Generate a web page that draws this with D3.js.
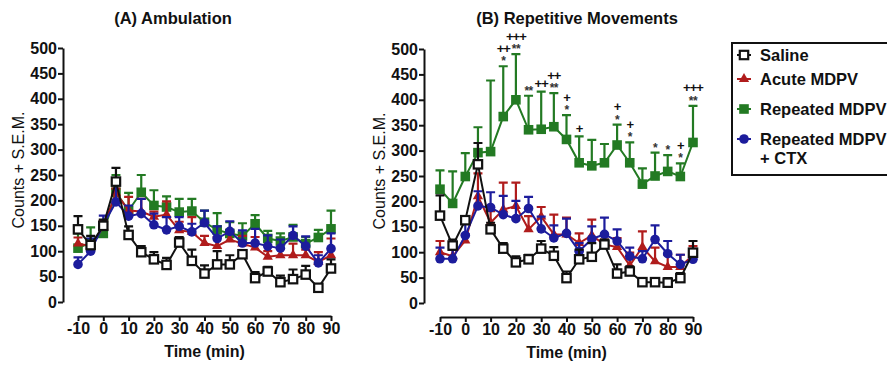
<!DOCTYPE html>
<html>
<head>
<meta charset="utf-8">
<script src="https://cdn.jsdelivr.net/npm/d3@7"></script>
<style>
  body { margin: 0; background: #fff; }
  svg { display: block; font-family: "Liberation Sans", Arial, sans-serif; }
</style>
</head>
<body>
<svg id="chart" width="887" height="367"></svg>
<script>
const times = [-10, -5, 0, 5, 10, 15, 20, 25, 30, 35, 40, 45, 50, 55, 60, 65, 70, 75, 80, 85, 90];
const xTicks = [-10, 0, 10, 20, 30, 40, 50, 60, 70, 80, 90];
const yTicks = [0, 50, 100, 150, 200, 250, 300, 350, 400, 450, 500];
const groups = ['Saline', 'Acute MDPV', 'Repeated MDPV', 'Repeated MDPV\n+ CTX'];

// (A) Ambulation: means and mean + S.E.M.
const ambSaline = [143, 112, 150, 237, 132, 98, 84, 73, 117, 81, 56, 74, 74, 94, 47, 60, 39, 45, 54, 28, 66];
const ambSalineTop = [169, 130, 162, 264, 149, 110, 98, 87, 128, 103, 72, 100, 92, 100, 59, 69, 52, 64, 71, 32, 84];
const ambAcute = [115, 110, 148, 215, 180, 178, 168, 172, 141, 138, 116, 110, 123, 115, 107, 89, 92, 92, 92, 79, 92];
const ambAcuteTop = [127, 120, 160, 223, 207, 203, 178, 198, 158, 167, 130, 128, 135, 130, 128, 100, 105, 115, 103, 98, 125];
const ambRepeated = [106, 117, 135, 216, 180, 216, 190, 187, 177, 179, 157, 142, 135, 130, 154, 125, 120, 128, 115, 127, 144];
const ambRepeatedTop = [135, 147, 150, 250, 215, 250, 220, 208, 203, 203, 180, 175, 157, 155, 171, 140, 135, 152, 128, 142, 180];
const ambCtx = [74, 100, 152, 197, 169, 174, 152, 142, 149, 138, 156, 125, 139, 116, 116, 110, 106, 131, 110, 77, 105];
const ambCtxTop = [88, 125, 170, 230, 190, 203, 174, 167, 167, 154, 180, 149, 159, 141, 144, 131, 123, 149, 129, 92, 135];

// (B) Repetitive Movements
const repSaline = [172, 113, 163, 273, 145, 107, 80, 86, 107, 93, 49, 86, 91, 115, 58, 62, 41, 41, 40, 49, 99];
const repSalineTop = [212, 125, 169, 315, 158, 118, 92, 95, 122, 110, 62, 105, 118, 125, 76, 72, 49, 49, 49, 59, 122];
const repAcute = [100, 92, 123, 210, 158, 184, 191, 145, 170, 135, 135, 118, 133, 115, 110, 74, 110, 82, 71, 71, 95];
const repAcuteTop = [122, 105, 135, 255, 181, 237, 237, 171, 189, 174, 168, 137, 164, 125, 128, 99, 141, 109, 95, 95, 112];
const repRepeated = [224, 196, 249, 296, 298, 367, 400, 341, 342, 347, 322, 276, 270, 276, 311, 276, 234, 250, 259, 249, 316];
const repRepeatedTop = [261, 259, 295, 346, 438, 466, 490, 408, 416, 413, 370, 328, 321, 313, 351, 316, 265, 296, 291, 275, 388];
const repCtx = [87, 87, 133, 191, 188, 174, 166, 186, 146, 128, 137, 102, 126, 135, 122, 92, 87, 125, 97, 76, 86];
const repCtxTop = [109, 105, 161, 220, 218, 211, 201, 209, 170, 153, 166, 118, 151, 168, 145, 109, 102, 153, 122, 95, 102];

// significance marks above Repeated MDPV in (B), lines listed top to bottom
const sigTimes = [15, 20, 25, 30, 35, 40, 45, 60, 65, 75, 80, 85, 90];
const sigMarks = [['++', '*'], ['+++', '**'], ['**'], ['++'], ['++', '**'], ['+', '*'], ['+'],
  ['+', '*'], ['+', '*'], ['*'], ['*'], ['+', '*'], ['+++', '**']];

const colors = ['#111111', '#b01c1c', '#237a23', '#1c1c9c'];
const shapes = ['openSquare', 'triangle', 'square', 'circle'];
const font = '"Liberation Sans", Arial, sans-serif';

const svg = d3.select('#chart');

function drawMarker(sel, shape, color) {
  if (shape === 'circle') {
    sel.append('circle').attr('r', 4.8).attr('fill', color);
  } else if (shape === 'triangle') {
    sel.append('path').attr('d', d3.symbol(d3.symbolTriangle, 46)()).attr('fill', color);
  } else if (shape === 'square') {
    sel.append('rect').attr('x', -4.8).attr('y', -4.8).attr('width', 9.6).attr('height', 9.6).attr('fill', color);
  } else {
    sel.append('rect').attr('x', -4.2).attr('y', -4.2).attr('width', 8.4).attr('height', 8.4)
      .attr('fill', '#fff').attr('stroke', color).attr('stroke-width', 2.2);
  }
}

function drawPanel(opts) {
  const { title, titleX, xRange, yRange, yAxisX, xAxisY, series, sig } = opts;
  const x = d3.scaleLinear().domain([-10, 90]).range(xRange);
  const y = d3.scaleLinear().domain([0, 500]).range(yRange);
  const g = svg.append('g');

  g.append('text')
    .attr('x', titleX).attr('y', 24)
    .attr('text-anchor', 'middle')
    .attr('font-size', '16.5px').attr('font-weight', 'bold')
    .attr('fill', '#111')
    .text(title);

  // Y axis
  g.append('g')
    .attr('transform', `translate(${yAxisX},0)`)
    .call(d3.axisLeft(y).tickValues(yTicks).tickSize(5).tickSizeOuter(0).tickPadding(1)
      .tickFormat(d => String(d)))
    .call(a => a.selectAll('path, line').attr('stroke', '#111').attr('stroke-width', 2))
    .call(a => a.selectAll('text').attr('font-size', '16px').attr('font-weight', 'bold')
      .attr('fill', '#111').attr('font-family', font));

  // X axis (detached from the y axis)
  g.append('g')
    .attr('transform', `translate(0,${xAxisY})`)
    .call(d3.axisBottom(x).tickValues(xTicks).tickSize(5).tickSizeOuter(0).tickPadding(2)
      .tickFormat(d => String(d)))
    .call(a => a.selectAll('path, line').attr('stroke', '#111').attr('stroke-width', 2))
    .call(a => a.selectAll('text').attr('font-size', '16px').attr('font-weight', 'bold')
      .attr('fill', '#111').attr('font-family', font));

  g.append('text')
    .attr('x', (xRange[0] + xRange[1]) / 2).attr('y', xAxisY + 41)
    .attr('text-anchor', 'middle')
    .attr('font-size', '16px').attr('font-weight', 'bold').attr('fill', '#111')
    .text('Time (min)');

  g.append('text')
    .attr('transform', `translate(${yAxisX - 39},${(yRange[0] + yRange[1]) / 2 - 5}) rotate(-90)`)
    .attr('text-anchor', 'middle')
    .attr('font-size', '16px').attr('fill', '#111')
    .text('Counts + S.E.M.');

  // draw order: Repeated, Acute, CTX, Saline
  [2, 1, 3, 0].forEach(i => {
    const s = series[i];
    const c = colors[i];
    const pts = times.map((t, k) => ({ t, v: s.mean[k], top: s.top[k] }));
    const sg = g.append('g');

    sg.selectAll('.err')
      .data(pts)
      .join('path')
      .attr('d', d => `M${x(d.t)},${y(d.v)}V${y(d.top)}M${x(d.t) - 4.5},${y(d.top)}H${x(d.t) + 4.5}`)
      .attr('stroke', c).attr('stroke-width', 2.2).attr('fill', 'none');

    sg.append('path')
      .datum(pts)
      .attr('d', d3.line().x(d => x(d.t)).y(d => y(d.v)))
      .attr('stroke', c).attr('stroke-width', 2).attr('fill', 'none');

    sg.selectAll('.mk')
      .data(pts)
      .join('g')
      .attr('transform', d => `translate(${x(d.t)},${y(d.v)})`)
      .each(function () { drawMarker(d3.select(this), shapes[i], c); });
  });

  if (sig) {
    const tops = series[2].top;
    sigTimes.forEach((t, k) => {
      const capY = y(tops[times.indexOf(t)]);
      const lines = sigMarks[k];
      lines.forEach((txt, j) => {
        const fromBottom = lines.length - 1 - j;
        const centre = capY - 8 - fromBottom * 10;
        const isStar = txt.includes('*');
        g.append('text')
          .attr('x', x(t)).attr('y', centre + (isStar ? 7 : 4.5))
          .attr('text-anchor', 'middle')
          .attr('font-size', isStar ? '12px' : '13px').attr('font-weight', 'bold')
          .attr('fill', isStar ? '#333' : '#111')
          .attr('letter-spacing', isStar ? '-0.5px' : '-1px')
          .text(txt);
      });
    });
  }
}

drawPanel({
  title: '(A) Ambulation', titleX: 173,
  xRange: [78, 331], yRange: [302, 48], yAxisX: 63, xAxisY: 316,
  series: [
    { mean: ambSaline, top: ambSalineTop },
    { mean: ambAcute, top: ambAcuteTop },
    { mean: ambRepeated, top: ambRepeatedTop },
    { mean: ambCtx, top: ambCtxTop }
  ],
  sig: false
});

drawPanel({
  title: '(B) Repetitive Movements', titleX: 577,
  xRange: [440, 693], yRange: [303, 49], yAxisX: 424, xAxisY: 317,
  series: [
    { mean: repSaline, top: repSalineTop },
    { mean: repAcute, top: repAcuteTop },
    { mean: repRepeated, top: repRepeatedTop },
    { mean: repCtx, top: repCtxTop }
  ],
  sig: true
});

// Legend
const lg = svg.append('g');
lg.append('rect')
  .attr('x', 732).attr('y', 43).attr('width', 200).attr('height', 132)
  .attr('fill', '#fff').attr('stroke', '#111').attr('stroke-width', 2);

const legendY = [55, 79, 109, 139];
groups.forEach((name, i) => {
  const row = lg.append('g').attr('transform', `translate(744,${legendY[i]})`);
  row.append('line').attr('x1', -7).attr('x2', 7).attr('stroke', colors[i]).attr('stroke-width', 2);
  drawMarker(row, shapes[i], colors[i]);
  name.split('\n').forEach((part, j) => {
    row.append('text')
      .attr('x', 16).attr('y', 6 + j * 19)
      .attr('font-size', '16.5px').attr('font-weight', 'bold').attr('fill', '#111')
      .text(part);
  });
});
</script>
</body>
</html>
